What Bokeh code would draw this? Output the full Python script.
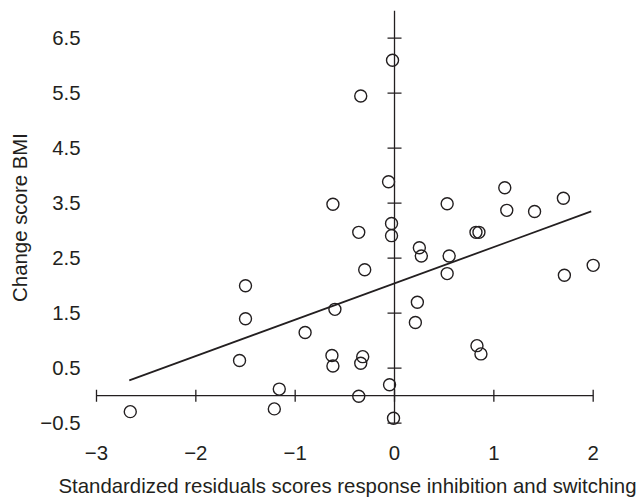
from bokeh.plotting import figure
from bokeh.models import Range1d, FixedTicker, ColumnDataSource
from bokeh.embed import file_html
from bokeh.resources import INLINE
import math

# ---- data ----
x_vals = [-2.66, -1.56, -1.50, -1.50, -1.21, -1.16, -0.90, -0.62, -0.60, -0.63,
          -0.62, -0.36, -0.34, -0.32, -0.34, -0.36, -0.30, -0.06, -0.03, -0.03,
          -0.02, -0.05, -0.01, 0.21, 0.23, 0.25, 0.27, 0.53, 0.55, 0.53,
          0.82, 0.85, 0.83, 0.87, 1.11, 1.13, 1.41, 1.70, 1.71, 2.00]
y_vals = [-0.29, 0.64, 2.00, 1.40, -0.24, 0.12, 1.15, 3.48, 1.57, 0.73,
          0.54, 2.97, 5.45, 0.71, 0.59, -0.01, 2.29, 3.89, 3.13, 2.91,
          6.10, 0.20, -0.41, 1.33, 1.70, 2.69, 2.54, 3.49, 2.54, 2.22,
          2.97, 2.97, 0.91, 0.76, 3.78, 3.37, 3.35, 3.59, 2.19, 2.37]
fit_x = [-2.67, 1.98]
fit_y = [0.28, 3.35]

x_ticks = [-3, -2, -1, 0, 1, 2]
x_tick_labels = ["\u22123", "\u22122", "\u22121", "0", "1", "2"]
y_ticks = [-0.5, 0.5, 1.5, 2.5, 3.5, 4.5, 5.5, 6.5]
y_tick_labels = ["\u22120.5", "0.5", "1.5", "2.5", "3.5", "4.5", "5.5", "6.5"]
y_axis_top = 7.0

x_title = "Standardized residuals scores response inhibition and switching"
y_title = "Change score BMI"

INK = "#231f20"
FONT = "Liberation Sans"
FS = "20.4px"

p = figure(width=636, height=500,
           x_range=Range1d(-3.0805, 2.134), y_range=Range1d(-0.633, 7.113),
           output_backend="svg", toolbar_location=None,
           min_border_left=88, min_border_right=30,
           min_border_top=4, min_border_bottom=70)
p.grid.visible = False
p.outline_line_color = None
p.background_fill_color = "white"
p.border_fill_color = "white"

# axes: labels only (lines/ticks drawn as crossing axes at zero)
for ax in (p.xaxis[0], p.yaxis[0]):
    ax.axis_line_color = None
    ax.major_tick_line_color = None
    ax.minor_tick_line_color = None
    ax.major_tick_in = 0
    ax.major_tick_out = 0
    ax.major_label_text_font = FONT
    ax.major_label_text_font_size = FS
    ax.major_label_text_color = INK
    ax.axis_label_text_font = FONT
    ax.axis_label_text_font_size = FS
    ax.axis_label_text_font_style = "normal"
    ax.axis_label_text_color = INK

p.xaxis.ticker = FixedTicker(ticks=x_ticks)
p.xaxis.major_label_overrides = {t: l for t, l in zip(x_ticks, x_tick_labels)}
p.xaxis.major_label_standoff = 15
p.xaxis.axis_label = x_title
p.xaxis.axis_label_standoff = 12

p.yaxis.ticker = FixedTicker(ticks=y_ticks)
p.yaxis.major_label_overrides = {t: l for t, l in zip(y_ticks, y_tick_labels)}
p.yaxis.major_label_standoff = 8
p.yaxis.axis_label = y_title
p.yaxis.axis_label_standoff = 6

# crossing axis lines
p.segment(x0=[x_ticks[0]], y0=[0], x1=[x_ticks[-1]], y1=[0],
          line_color=INK, line_width=1.3)
p.segment(x0=[0], y0=[y_ticks[0]], x1=[0], y1=[y_axis_top],
          line_color=INK, line_width=1.3)
# tick marks crossing the axes
p.scatter(x=x_ticks, y=[0] * len(x_ticks), marker="dash", size=12,
          angle=math.pi / 2, line_color=INK, line_width=1.3)
p.scatter(x=[0] * len(y_ticks), y=y_ticks, marker="dash", size=14,
          line_color=INK, line_width=1.3)

# regression line
p.line(fit_x, fit_y, line_color=INK, line_width=1.8)

# points
src = ColumnDataSource(dict(x=x_vals, y=y_vals))
p.scatter("x", "y", source=src, marker="circle", size=12,
          fill_color=None, line_color=INK, line_width=1.4)

open("out.html", "w").write(file_html(p, INLINE))
